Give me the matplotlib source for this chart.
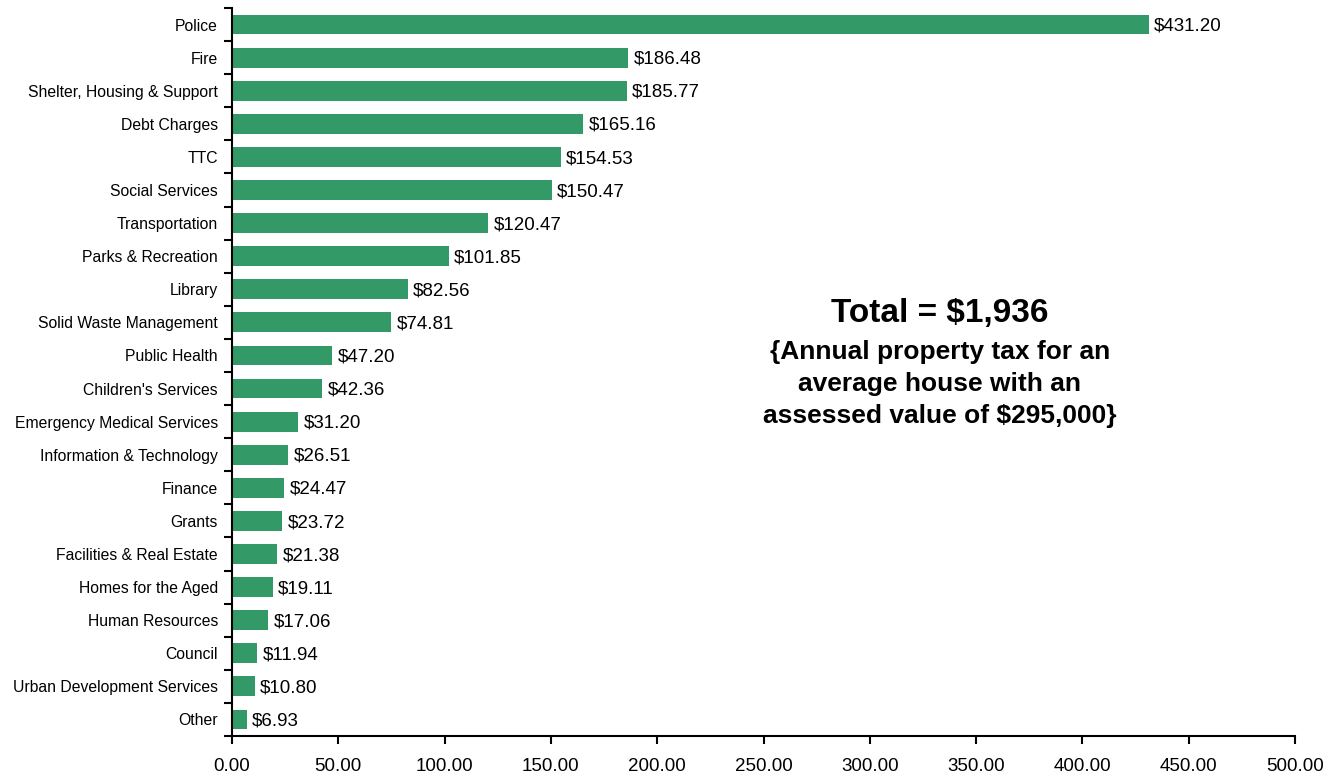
import matplotlib.pyplot as plt
import numpy as np

plt.rcParams['font.family'] = ['Liberation Sans', 'DejaVu Sans']

categories = ["Police", "Fire", "Shelter, Housing & Support", "Debt Charges", "TTC",
              "Social Services", "Transportation", "Parks & Recreation", "Library",
              "Solid Waste Management", "Public Health", "Children's Services",
              "Emergency Medical Services", "Information & Technology", "Finance",
              "Grants", "Facilities & Real Estate", "Homes for the Aged",
              "Human Resources", "Council", "Urban Development Services", "Other"]
values = [431.20, 186.48, 185.77, 165.16, 154.53, 150.47, 120.47, 101.85, 82.56,
          74.81, 47.20, 42.36, 31.20, 26.51, 24.47, 23.72, 21.38, 19.11, 17.06,
          11.94, 10.80, 6.93]
x_ticks = [0, 50, 100, 150, 200, 250, 300, 350, 400, 450, 500]
note_lines = ["{Annual property tax for an", "average house with an",
              "assessed value of $295,000}"]

fig = plt.figure(figsize=(13.4, 7.79), dpi=100)
ax = fig.add_axes([232 / 1340, 1 - 736 / 779, (1295 - 232) / 1340, (736 - 8) / 779])

y = np.arange(len(categories))
ax.barh(y, values, height=0.6, color='#339966')
ax.set_ylim(len(categories) - 0.5, -0.5)
ax.set_xlim(0, 500)

for yi, v in zip(y, values):
    ax.text(v + 2.5, yi + 0.05, f"${v:,.2f}", va='center', ha='left', fontsize=13.5)

ax.set_yticks(y)
ax.set_yticklabels(categories, fontsize=11.3)
ax.set_yticks(np.arange(len(categories) + 1) - 0.5, minor=True)
ax.tick_params(axis='y', which='major', length=0, pad=10)
ax.tick_params(axis='y', which='minor', length=6, width=1.5, direction='out')

ax.set_xticks(x_ticks)
ax.set_xticklabels([f"{t:.2f}" for t in x_ticks], fontsize=13.5)
ax.tick_params(axis='x', length=6, width=1.5, direction='out', pad=10)

for s in ['top', 'right']:
    ax.spines[s].set_visible(False)
for s in ['left', 'bottom']:
    ax.spines[s].set_linewidth(1.5)

# annotation block, placed in axes fraction
cx = (940 - 232) / (1295 - 232)
ax.text(cx, 1 - (313 - 8) / 728, "Total = $1,936", ha='center', va='center',
        fontsize=24, fontweight='bold', transform=ax.transAxes)
for i, line in enumerate(note_lines):
    ax.text(cx, 1 - (352 + 32 * i - 8) / 728, line, ha='center', va='center',
            fontsize=19, fontweight='bold', transform=ax.transAxes)

fig.savefig('out.png', dpi=100)
